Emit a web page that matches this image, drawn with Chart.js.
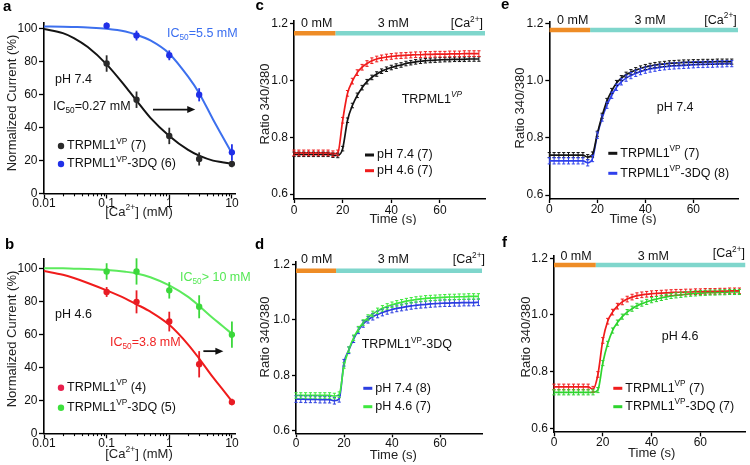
<!DOCTYPE html>
<html>
<head>
<meta charset="utf-8">
<script src="https://cdn.jsdelivr.net/npm/chart.js@4.4.0/dist/chart.umd.min.js"></script>
<style>
  body { margin: 0; background: #fff; }
  #fig { position: relative; width: 750px; height: 465px; overflow: hidden; }
  #fig canvas { position: absolute; }
</style>
</head>
<body>
<div id="fig">
  <canvas id="pa" width="250" height="225" style="left:0px;top:0px"></canvas>
  <canvas id="pb" width="250" height="240" style="left:0px;top:225px"></canvas>
  <canvas id="pc" width="250" height="225" style="left:250px;top:0px"></canvas>
  <canvas id="pd" width="250" height="240" style="left:250px;top:225px"></canvas>
  <canvas id="pe" width="250" height="225" style="left:500px;top:0px"></canvas>
  <canvas id="pf" width="250" height="240" style="left:500px;top:225px"></canvas>
</div>
<script>
// ---- dose response (a, b) ----
const doses = [0.1, 0.3, 1, 3, 10];
const doseTicks = [0.01, 0.1, 1, 10];
const doseTickLabels = ['0.01', '0.1', '1', '10'];
const doseMinorTicks = [0.02, 0.03, 0.04, 0.05, 0.06, 0.07, 0.08, 0.09,
                        0.2, 0.3, 0.4, 0.5, 0.6, 0.7, 0.8, 0.9,
                        2, 3, 4, 5, 6, 7, 8, 9];
const pctTicks = [0, 20, 40, 60, 80, 100];
const pctTickLabels = ['0', '20', '40', '60', '80', '100'];

const aVP = [79, 57, 35, 21, 18];
const aVPErr = [5, 5, 5, 4, 2];
const a3DQ = [102, 96, 84, 60, 25];
const a3DQErr = [2, 3, 3, 4, 5];
const bVP = [86, 80, 68, 42, 19];
const bVPErr = [3, 7, 6, 8, 2];
const b3DQ = [98.5, 98.5, 87, 77, 60];
const b3DQErr = [5, 8, 5, 7, 8];

// fitted curves
const fitX = [0.01, 0.02, 0.03, 0.05, 0.1, 0.2, 0.3, 0.5, 1, 2, 3, 5, 7, 10];
const aVPFit = [100, 97.5, 94.5, 89, 78.5, 65, 56.5, 46, 35, 26.5, 23, 20, 19, 18];
const a3DQFit = [101.5, 101.4, 101.2, 100.9, 100.2, 98.5, 96.5, 93, 85, 71, 61, 45, 35, 24.5];
const bVPFit = [98.8, 96.5, 94.5, 91.5, 87, 82, 78.5, 74, 66, 54, 45.5, 34, 27, 19.5];
const b3DQFit = [100.5, 100.4, 100.2, 100, 99.4, 98.3, 97.3, 95, 90, 83, 77.5, 70, 65.5, 60.5];

// ---- Ca imaging traces (c - f) ----
const times = [0, 2, 4, 6, 8, 10, 12, 14, 16, 18, 20, 22, 24, 26, 28, 30, 32, 34, 36, 38,
               40, 42, 44, 46, 48, 50, 52, 54, 56, 58, 60, 62, 64, 66, 68, 70, 72, 74, 76];
const timeTicks = [0, 20, 40, 60];
const timeTickLabels = ['0', '20', '40', '60'];
const ratioTicks = [0.6, 0.8, 1.0, 1.2];
const ratioTickLabels = ['0.6', '0.8', '1.0', '1.2'];

const cPH74 = [0.740, 0.740, 0.740, 0.740, 0.740, 0.740, 0.740, 0.740, 0.737, 0.736, 0.760, 0.860, 0.912,
               0.948, 0.975, 0.996, 1.011, 1.023, 1.033, 1.040, 1.046, 1.051, 1.055, 1.060, 1.063, 1.066,
               1.068, 1.070, 1.071, 1.072, 1.073, 1.074, 1.074, 1.075, 1.075, 1.075, 1.076, 1.076, 1.076];
const cPH46 = [0.745, 0.745, 0.745, 0.745, 0.745, 0.745, 0.745, 0.745, 0.742, 0.745, 0.860, 0.955, 0.998,
               1.028, 1.047, 1.060, 1.070, 1.076, 1.080, 1.083, 1.085, 1.087, 1.088, 1.089, 1.090, 1.091,
               1.091, 1.092, 1.092, 1.093, 1.093, 1.093, 1.094, 1.094, 1.094, 1.095, 1.095, 1.095, 1.095];
const dPH74 = [0.714, 0.714, 0.713, 0.713, 0.713, 0.712, 0.712, 0.712, 0.708, 0.715, 0.845, 0.890, 0.930,
               0.962, 0.985, 1.000, 1.011, 1.019, 1.026, 1.032, 1.037, 1.041, 1.044, 1.047, 1.050, 1.052,
               1.054, 1.055, 1.057, 1.058, 1.059, 1.060, 1.060, 1.061, 1.061, 1.062, 1.062, 1.062, 1.063];
const dPH46 = [0.727, 0.727, 0.727, 0.727, 0.727, 0.727, 0.727, 0.727, 0.725, 0.730, 0.835, 0.892, 0.935,
               0.966, 0.990, 1.008, 1.021, 1.032, 1.041, 1.048, 1.054, 1.059, 1.063, 1.067, 1.070, 1.073,
               1.075, 1.077, 1.078, 1.079, 1.080, 1.081, 1.082, 1.082, 1.083, 1.083, 1.084, 1.084, 1.084];
const eVP = [0.740, 0.740, 0.740, 0.740, 0.740, 0.740, 0.740, 0.740, 0.733, 0.742, 0.815, 0.878, 0.930,
             0.965, 0.993, 1.010, 1.022, 1.031, 1.038, 1.044, 1.049, 1.053, 1.056, 1.058, 1.060, 1.062,
             1.063, 1.064, 1.065, 1.065, 1.066, 1.066, 1.067, 1.067, 1.067, 1.068, 1.068, 1.068, 1.068];
const e3DQ = [0.720, 0.720, 0.720, 0.720, 0.720, 0.720, 0.720, 0.720, 0.713, 0.728, 0.810, 0.870, 0.915,
              0.950, 0.978, 0.997, 1.010, 1.019, 1.027, 1.033, 1.038, 1.042, 1.045, 1.048, 1.050, 1.052,
              1.053, 1.054, 1.055, 1.056, 1.057, 1.058, 1.058, 1.059, 1.059, 1.060, 1.060, 1.061, 1.061];
const fVP = [0.746, 0.746, 0.746, 0.746, 0.746, 0.746, 0.746, 0.746, 0.738, 0.790, 0.910, 0.978, 1.010,
             1.031, 1.046, 1.056, 1.063, 1.068, 1.071, 1.073, 1.075, 1.076, 1.077, 1.078, 1.079, 1.080,
             1.080, 1.081, 1.081, 1.082, 1.082, 1.083, 1.083, 1.083, 1.084, 1.084, 1.085, 1.085, 1.085];
const f3DQ = [0.727, 0.727, 0.727, 0.727, 0.727, 0.727, 0.727, 0.727, 0.727, 0.735, 0.830, 0.898, 0.945,
              0.973, 0.994, 1.010, 1.022, 1.032, 1.040, 1.046, 1.052, 1.056, 1.060, 1.064, 1.067, 1.069,
              1.071, 1.073, 1.075, 1.076, 1.077, 1.078, 1.079, 1.079, 1.080, 1.080, 1.081, 1.081, 1.081];
// SEM per trace
const semC = [0.008, 0.010];
const semD = [0.012, 0.010];
const semE = [0.009, 0.011];
const semF = [0.010, 0.009];
// solution change: start, switch to 3 mM, end (s)
const stimC = [0, 17, 78.5];
const stimD = [0, 16.7, 77.5];
const stimE = [0, 17, 78.6];
const stimF = [0, 17.1, 78.5];

const legendA = ['TRPML1^{VP} (7)', 'TRPML1^{VP}-3DQ (6)'];
const legendB = ['TRPML1^{VP} (4)', 'TRPML1^{VP}-3DQ (5)'];
const legendC = ['pH 7.4 (7)', 'pH 4.6 (7)'];
const legendD = ['pH 7.4 (8)', 'pH 4.6 (7)'];
const legendE = ['TRPML1^{VP} (7)', 'TRPML1^{VP}-3DQ (8)'];
const legendF = ['TRPML1^{VP} (7)', 'TRPML1^{VP}-3DQ (7)'];

const FONT = '"Liberation Sans", Arial, Helvetica, sans-serif';
Chart.defaults.font.family = FONT;
Chart.defaults.font.size = 12;
Chart.defaults.color = '#000';

// "^{..}" superscript, "^~{..}" italic superscript, "_{..}" subscript
function parseRich(str) {
    let parts = [];
    let re = /(\^~?|_)\{([^}]*)\}/g;
    let last = 0, m;
    while ((m = re.exec(str))) {
        if (m.index > last) parts.push({ t: str.slice(last, m.index) });
        parts.push({ t: m[2], sup: m[1][0] == '^', sub: m[1] == '_', italic: m[1] == '^~' });
        last = re.lastIndex;
    }
    if (last < str.length) parts.push({ t: str.slice(last) });
    return parts;
}

function drawRich(ctx, str, x, y, o) {
    let size = o.size || 12.5;
    let parts = parseRich(str);
    let fontFor = p => (p.italic ? 'italic ' : '') + (o.bold ? 'bold ' : '') +
        ((p.sup || p.sub) ? size * 0.66 : size) + 'px ' + FONT;
    let w = 0;
    parts.forEach(p => { ctx.font = fontFor(p); w += ctx.measureText(p.t).width; });
    ctx.save();
    ctx.translate(x, y);
    if (o.rotate) ctx.rotate(-Math.PI / 2);
    let cx = o.align == 'center' ? -w / 2 : (o.align == 'right' ? -w : 0);
    ctx.textAlign = 'left';
    ctx.textBaseline = 'middle';
    ctx.fillStyle = o.color || '#111';
    parts.forEach(p => {
        ctx.font = fontFor(p);
        let dy = p.sup ? -size * 0.36 : (p.sub ? size * 0.3 : 0);
        ctx.fillText(p.t, cx, dy);
        cx += ctx.measureText(p.t).width;
    });
    ctx.restore();
}

const errorBars = {
    id: 'errorBars',
    afterDatasetsDraw(chart) {
        let ctx = chart.ctx;
        let ys = chart.scales.y;
        chart.data.datasets.forEach((ds, i) => {
            if (ds.errors == undefined) return;
            let meta = chart.getDatasetMeta(i);
            ctx.save();
            ctx.strokeStyle = ds.errColor || ds.borderColor;
            ctx.lineWidth = ds.errWidth || 1;
            meta.data.forEach((pt, j) => {
                let v = ds.data[j].y;
                let e = Array.isArray(ds.errors) ? ds.errors[j] : ds.errors;
                let y1 = ys.getPixelForValue(v - e);
                let y2 = ys.getPixelForValue(v + e);
                ctx.beginPath();
                ctx.moveTo(pt.x, y1);
                ctx.lineTo(pt.x, y2);
                if (ds.cap) {
                    ctx.moveTo(pt.x - ds.cap, y2);
                    ctx.lineTo(pt.x + ds.cap, y2);
                    ctx.moveTo(pt.x - ds.cap, y1);
                    ctx.lineTo(pt.x + ds.cap, y1);
                }
                ctx.stroke();
            });
            ctx.restore();
        });
    }
};

// texts, legend, arrows and minor ticks of one panel
function decor(g) {
    return {
        id: 'decor',
        afterDraw(chart) {
            let ctx = chart.ctx;
            let xs = chart.scales.x, ys = chart.scales.y;
            let area = chart.chartArea;

            ctx.save();
            ctx.strokeStyle = '#000';
            ctx.lineWidth = 1.1;
            (g.minor || []).forEach(v => {
                let px = Math.round(xs.getPixelForValue(v)) + 0.5;
                ctx.beginPath();
                ctx.moveTo(px, area.bottom);
                ctx.lineTo(px, area.bottom + 2.8);
                ctx.stroke();
            });
            ctx.restore();

            drawRich(ctx, g.letter.s, g.letter.x, g.letter.y, { size: 15, bold: true, color: '#000' });
            drawRich(ctx, g.yTitle.s, g.yTitle.x, g.yTitle.y, { size: 13, rotate: true, align: 'center', color: '#222' });
            drawRich(ctx, g.xTitle.s, g.xTitle.x, g.xTitle.y, { size: 13, align: 'center', color: '#222' });
            (g.texts || []).forEach(t => drawRich(ctx, t.s, t.x, t.y, { size: t.size || 12.5, color: t.color, align: t.align }));

            (g.arrows || []).forEach(a => {
                let x1 = xs.getPixelForValue(a.from[0]), y1 = ys.getPixelForValue(a.from[1]);
                let x2 = xs.getPixelForValue(a.to[0]);
                ctx.save();
                ctx.strokeStyle = '#111';
                ctx.fillStyle = '#111';
                ctx.lineWidth = 1.8;
                ctx.beginPath();
                ctx.moveTo(x1, y1);
                ctx.lineTo(x2 - 6, y1);
                ctx.stroke();
                ctx.beginPath();
                ctx.moveTo(x2, y1);
                ctx.lineTo(x2 - 8, y1 - 3.5);
                ctx.lineTo(x2 - 8, y1 + 3.5);
                ctx.closePath();
                ctx.fill();
                ctx.restore();
            });

            let lg = g.legend;
            lg.items.forEach((it, i) => {
                let y = lg.y + i * lg.dy;
                ctx.save();
                if (lg.kind == 'dot') {
                    ctx.fillStyle = it.color;
                    ctx.beginPath();
                    ctx.arc(lg.x, y, 3.2, 0, Math.PI * 2);
                    ctx.fill();
                    drawRich(ctx, it.s, lg.x + 6, y, { size: 12.5, color: '#111' });
                } else {
                    ctx.strokeStyle = it.color;
                    ctx.lineWidth = 3;
                    ctx.beginPath();
                    ctx.moveTo(lg.x, y);
                    ctx.lineTo(lg.x + 9, y);
                    ctx.stroke();
                    drawRich(ctx, it.s, lg.x + 12, y, { size: 12.5, color: '#111' });
                }
                ctx.restore();
            });
        }
    };
}

function axisLook(tickLen) {
    return {
        grid: { drawOnChartArea: false, drawTicks: true, tickLength: tickLen, tickColor: '#000', tickWidth: 1.3 },
        border: { display: true, color: '#000', width: 1.6 }
    };
}

function doseChart(id, g, series) {
    let datasets = [];
    series.forEach(s => {
        datasets.push({
            type: 'scatter',
            data: doses.map((d, i) => ({ x: d, y: s.vals[i] })),
            errors: s.errs, errWidth: 1.8, cap: 0, errColor: s.dot,
            showLine: false, pointRadius: 3.2, pointBackgroundColor: s.dot,
            pointBorderWidth: 0, borderColor: s.dot
        });
        datasets.push({
            type: 'line',
            data: fitX.map((d, i) => ({ x: d, y: s.fit[i] })),
            borderColor: s.line, borderWidth: 2, pointRadius: 0,
            cubicInterpolationMode: 'monotone', fill: false
        });
    });

    return new Chart(document.getElementById(id), {
        type: 'line',
        data: { datasets: datasets },
        options: {
            responsive: false, animation: false, events: [], devicePixelRatio: 1,
            layout: { padding: { left: 0, top: g.top, right: g.right, bottom: 0 } },
            plugins: { legend: { display: false }, tooltip: { enabled: false } },
            scales: {
                x: Object.assign({
                    type: 'logarithmic', min: 0.01, max: g.xmax,
                    afterBuildTicks: s => { s.ticks = doseTicks.map(v => ({ value: v })); },
                    afterFit: s => { s.height = g.xh; },
                    ticks: { callback: (v, i) => doseTickLabels[i], padding: g.xpad, maxRotation: 0, autoSkip: false, color: '#111' }
                }, axisLook(5)),
                y: Object.assign({
                    type: 'linear', min: 0, max: g.ymax,
                    afterBuildTicks: s => { s.ticks = pctTicks.map(v => ({ value: v })); },
                    afterFit: s => { s.width = g.yx; },
                    ticks: { callback: (v, i) => pctTickLabels[i], padding: 1.5, color: '#111' }
                }, axisLook(5))
            }
        },
        plugins: [errorBars, decor(g)]
    });
}

function traceChart(id, g, series, stim) {
    let datasets = series.map(s => ({
        data: times.map((t, i) => ({ x: t, y: s.vals[i] })),
        borderColor: s.color, borderWidth: 1.7, pointRadius: 0,
        cubicInterpolationMode: 'monotone', fill: false,
        errors: s.err, errWidth: 1, cap: 1.6, order: s.order
    }));
    datasets.push({
        data: [{ x: stim[0], y: g.stimY }, { x: stim[1], y: g.stimY }],
        borderColor: '#ee8c26', borderWidth: 4.5, pointRadius: 0, borderCapStyle: 'butt', order: 5
    });
    datasets.push({
        data: [{ x: stim[1], y: g.stimY }, { x: stim[2], y: g.stimY }],
        borderColor: '#7fd6cc', borderWidth: 4.5, pointRadius: 0, borderCapStyle: 'butt', order: 5
    });

    return new Chart(document.getElementById(id), {
        type: 'line',
        data: { datasets: datasets },
        options: {
            responsive: false, animation: false, events: [], devicePixelRatio: 1,
            layout: { padding: { left: 0, top: g.top, right: g.right, bottom: 0 } },
            plugins: { legend: { display: false }, tooltip: { enabled: false } },
            scales: {
                x: Object.assign({
                    type: 'linear', min: 0, max: g.xmax,
                    afterBuildTicks: s => { s.ticks = timeTicks.map(v => ({ value: v })); },
                    afterFit: s => { s.height = g.xh; },
                    ticks: { callback: (v, i) => timeTickLabels[i], padding: g.xpad, maxRotation: 0, autoSkip: false, color: '#111' }
                }, axisLook(4)),
                y: Object.assign({
                    type: 'linear', min: g.ymin, max: g.ymax,
                    afterBuildTicks: s => { s.ticks = ratioTicks.map(v => ({ value: v })); },
                    afterFit: s => { s.width = g.yx; },
                    ticks: { callback: (v, i) => ratioTickLabels[i], padding: 2, color: '#111' }
                }, axisLook(4))
            }
        },
        plugins: [errorBars, decor(g)]
    });
}

const BLACK = '#141414', RED = '#f01c1c', BLUE = '#2c3ee0', GREEN = '#3ee83e';

// a
doseChart('pa', {
    yx: 44, top: 22.4, right: 15, xh: 31.5, xmax: 11.2, ymax: 104, xpad: -2,
    minor: doseMinorTicks,
    letter: { s: 'a', x: 3, y: 7 },
    yTitle: { s: 'Normalized Current (%)', x: 12.5, y: 103 },
    xTitle: { s: '[Ca^{2+}] (mM)', x: 139, y: 212.5 },
    texts: [
        { s: 'IC_{50}=5.5 mM', x: 167, y: 34, color: '#3a6ef0' },
        { s: 'pH 7.4', x: 55, y: 80 },
        { s: 'IC_{50}=0.27 mM', x: 53, y: 107 }
    ],
    arrows: [{ from: [0.55, 51], to: [2.6, 51] }],
    legend: { kind: 'dot', x: 61, y: 146, dy: 18, items: [
        { s: legendA[0], color: '#2a2a2a' }, { s: legendA[1], color: '#2030e8' }] }
}, [
    { vals: aVP, errs: aVPErr, fit: aVPFit, dot: '#2a2a2a', line: BLACK },
    { vals: a3DQ, errs: a3DQErr, fit: a3DQFit, dot: '#2030e8', line: '#3d70ee' }
]);

// b
doseChart('pb', {
    yx: 44, top: 33.3, right: 15, xh: 31.7, xmax: 11.2, ymax: 106.5, xpad: -2,
    minor: doseMinorTicks,
    letter: { s: 'b', x: 5, y: 20 },
    yTitle: { s: 'Normalized Current (%)', x: 12.5, y: 114 },
    xTitle: { s: '[Ca^{2+}] (mM)', x: 139, y: 229 },
    texts: [
        { s: 'IC_{50}> 10 mM', x: 180, y: 53, color: '#55e855' },
        { s: 'pH 4.6', x: 55, y: 90 },
        { s: 'IC_{50}=3.8 mM', x: 110, y: 118, color: '#f02424' }
    ],
    arrows: [{ from: [3.5, 50], to: [7.3, 50] }],
    legend: { kind: 'dot', x: 61, y: 162.7, dy: 20, items: [
        { s: legendB[0], color: '#e8204e' }, { s: legendB[1], color: '#3ee03e' }] }
}, [
    { vals: bVP, errs: bVPErr, fit: bVPFit, dot: '#e81c24', line: RED },
    { vals: b3DQ, errs: b3DQErr, fit: b3DQFit, dot: '#3cd83c', line: '#5cea5c' }
]);

// c
traceChart('pc', {
    yx: 44, top: 21, right: 15, xh: 26, xmax: 78.5, ymin: 0.5824, ymax: 1.21, xpad: 0.5, stimY: 1.167,
    letter: { s: 'c', x: 5.5, y: 5.5 },
    yTitle: { s: 'Ratio 340/380', x: 15, y: 104 },
    xTitle: { s: 'Time (s)', x: 143, y: 219 },
    texts: [
        { s: '0 mM', x: 66.7, y: 24, align: 'center' },
        { s: '3 mM', x: 143.3, y: 24, align: 'center' },
        { s: '[Ca^{2+}]', x: 233, y: 24, align: 'right' },
        { s: 'TRPML1^~{VP}', x: 151.7, y: 99.3 }
    ],
    legend: { kind: 'line', x: 115, y: 155, dy: 15.7, items: [
        { s: legendC[0], color: BLACK }, { s: legendC[1], color: RED }] }
}, [
    { vals: cPH74, err: semC[0], color: BLACK, order: 1 },
    { vals: cPH46, err: semC[1], color: RED, order: 0 }
], stimC);

// d
traceChart('pd', {
    yx: 46, top: 36.5, right: 18, xh: 31.7, xmax: 77.5, ymin: 0.5906, ymax: 1.21, xpad: -1.2, stimY: 1.177,
    letter: { s: 'd', x: 5, y: 20 },
    yTitle: { s: 'Ratio 340/380', x: 15, y: 112 },
    xTitle: { s: 'Time (s)', x: 143.3, y: 230 },
    texts: [
        { s: '0 mM', x: 66.7, y: 35, align: 'center' },
        { s: '3 mM', x: 143.3, y: 35, align: 'center' },
        { s: '[Ca^{2+}]', x: 235, y: 35, align: 'right' },
        { s: 'TRPML1^{VP}-3DQ', x: 111.7, y: 120 }
    ],
    legend: { kind: 'line', x: 113.3, y: 163.3, dy: 18.4, items: [
        { s: legendD[0], color: BLUE }, { s: legendD[1], color: GREEN }] }
}, [
    { vals: dPH74, err: semD[0], color: BLUE, order: 1 },
    { vals: dPH46, err: semD[1], color: GREEN, order: 0 }
], stimD);

// e
traceChart('pe', {
    yx: 49.3, top: 21.7, right: 12, xh: 26, xmax: 78.6, ymin: 0.586, ymax: 1.208, xpad: -0.2, stimY: 1.179,
    letter: { s: 'e', x: 1, y: 5 },
    yTitle: { s: 'Ratio 340/380', x: 20, y: 108 },
    xTitle: { s: 'Time (s)', x: 133, y: 219 },
    texts: [
        { s: '0 mM', x: 72.7, y: 20.7, align: 'center' },
        { s: '3 mM', x: 150, y: 20.7, align: 'center' },
        { s: '[Ca^{2+}]', x: 236.7, y: 20.7, align: 'right' },
        { s: 'pH 7.4', x: 156.7, y: 107.3 }
    ],
    legend: { kind: 'line', x: 108.3, y: 153.3, dy: 20, items: [
        { s: legendE[0], color: BLACK }, { s: legendE[1], color: '#2f40ec' }] }
}, [
    { vals: eVP, err: semE[0], color: BLACK, order: 0 },
    { vals: e3DQ, err: semE[1], color: '#2f40ec', order: 1 }
], stimE);

// f
traceChart('pf', {
    yx: 54, top: 30.7, right: 4.5, xh: 32.7, xmax: 78.5, ymin: 0.586, ymax: 1.209, xpad: -1.2, stimY: 1.176,
    letter: { s: 'f', x: 2, y: 18 },
    yTitle: { s: 'Ratio 340/380', x: 26.7, y: 112 },
    xTitle: { s: 'Time (s)', x: 151.7, y: 228.3 },
    texts: [
        { s: '0 mM', x: 76, y: 31.7, align: 'center' },
        { s: '3 mM', x: 153.3, y: 31.7, align: 'center' },
        { s: '[Ca^{2+}]', x: 245, y: 29, align: 'right' },
        { s: 'pH 4.6', x: 161.7, y: 111.7 }
    ],
    legend: { kind: 'line', x: 113.3, y: 163.3, dy: 18.4, items: [
        { s: legendF[0], color: RED }, { s: legendF[1], color: '#2ed42e' }] }
}, [
    { vals: fVP, err: semF[0], color: RED, order: 0 },
    { vals: f3DQ, err: semF[1], color: '#2ed42e', order: 1 }
], stimF);
</script>
</body>
</html>
